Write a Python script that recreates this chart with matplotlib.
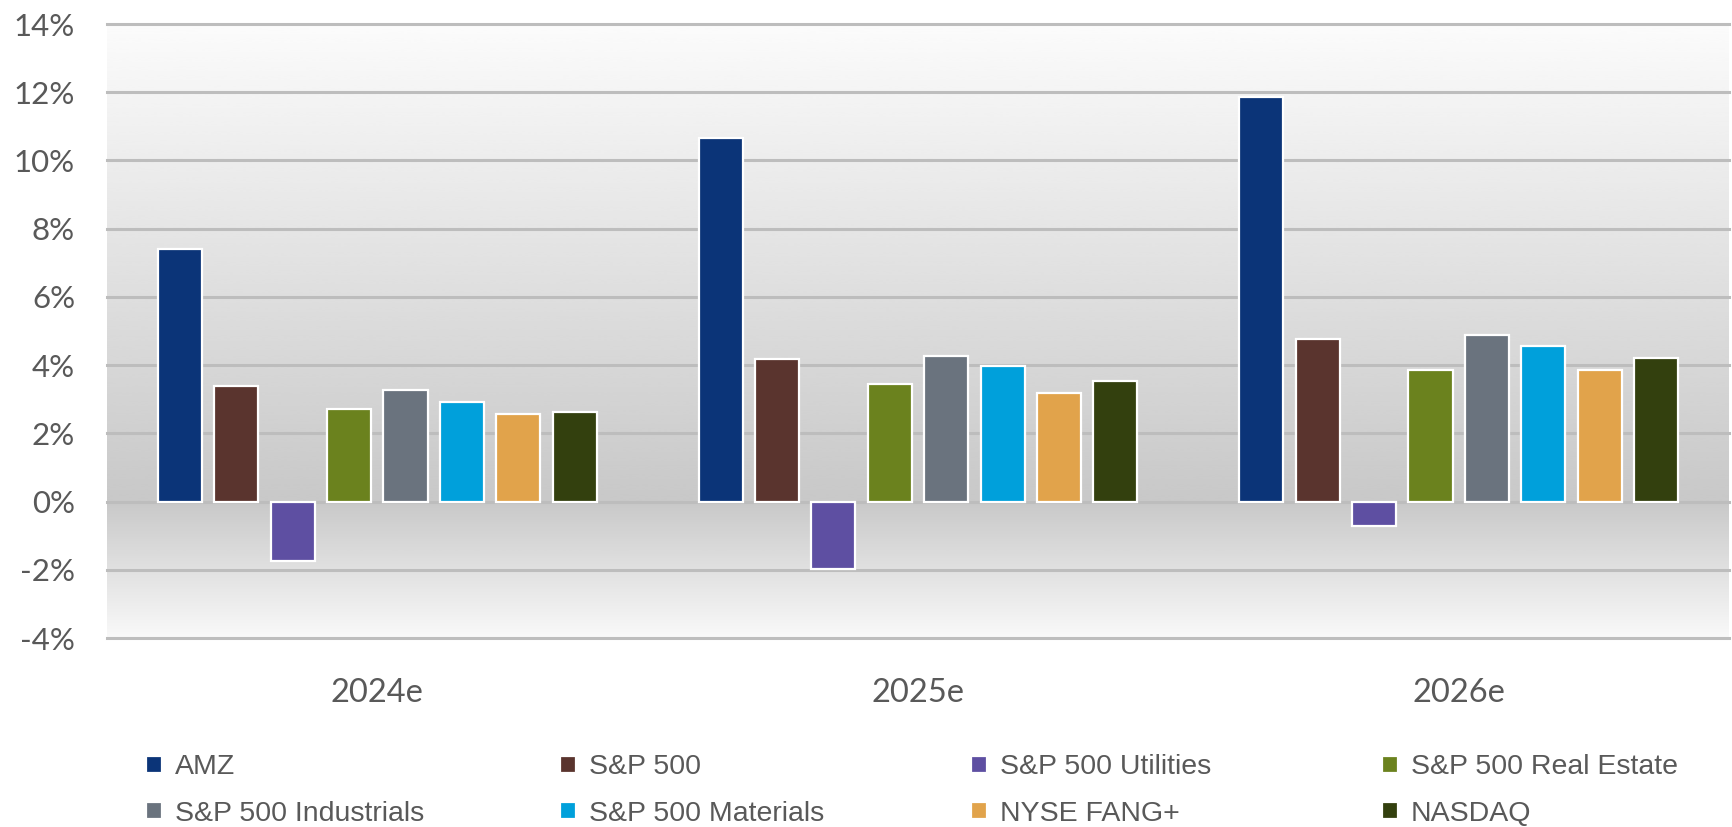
import matplotlib
matplotlib.use('Agg')
import matplotlib.pyplot as plt
import numpy as np

# Consensus growth estimates by year
years = ["2024e", "2025e", "2026e"]
series = ["AMZ", "S&P 500", "S&P 500 Utilities", "S&P 500 Real Estate",
          "S&P 500 Industrials", "S&P 500 Materials", "NYSE FANG+", "NASDAQ"]
amz = [7.4, 10.65, 11.85]
sp500 = [3.4, 4.17, 4.76]
utilities = [-1.75, -1.97, -0.71]
real_estate = [2.7, 3.46, 3.85]
industrials = [3.28, 4.27, 4.89]
materials = [2.92, 3.98, 4.57]
fang = [2.56, 3.17, 3.85]
nasdaq = [2.63, 3.54, 4.21]
colors = ["#0B3478", "#5A342E", "#5E4FA2", "#6B821E",
          "#6A737E", "#00A0DB", "#E1A34B", "#33400E"]

values = [amz, sp500, utilities, real_estate, industrials, materials, fang, nasdaq]

W, H = 1732, 827
fig = plt.figure(figsize=(W / 100, H / 100), dpi=100)
left, right, top, bottom = 107, 1729, 24, 638
ax = fig.add_axes([left / W, 1 - bottom / H, (right - left) / W, (bottom - top) / H])

ymin, ymax = -4, 14
# gradient background: light at top and bottom, grey around zero
ys = np.linspace(ymax, ymin, 400)
shade = np.where(ys >= 0, 0.985 - 0.2 * (1 - ys / ymax), 0.975 - 0.19 * (1 - ys / ymin))
grad = np.tile(shade[:, None], (1, 2))
ax.imshow(grad, extent=[-0.5, 2.5, ymin, ymax], aspect='auto', cmap='gray',
          vmin=0, vmax=1, zorder=0, interpolation='bicubic')

x = np.arange(len(years))
pitch = 0.1042
width = 0.0814
handles = []
for i, (name, vals) in enumerate(zip(series, values)):
    off = (i - 3.5) * pitch
    b = ax.bar(x + off, vals, width, color=colors[i], edgecolor='white',
               linewidth=1.6, label=name, zorder=3)
    handles.append(b)

ax.set_xlim(-0.5, 2.5)
ax.set_ylim(ymin, ymax)
ax.set_yticks(np.arange(-4, 15, 2))
ax.set_yticklabels([f"{v}%" for v in range(-4, 15, 2)])
ax.yaxis.grid(True, color="#BDBDBD", linewidth=2.2, zorder=1)
for gl in ax.get_ygridlines():
    gl.set_clip_on(False)
ax.set_axisbelow(True)
for s in ax.spines.values():
    s.set_visible(False)
ax.tick_params(axis='y', length=0, pad=23, labelsize=22.5, labelcolor="#595959")
ax.tick_params(axis='x', length=0, pad=29, labelsize=23.5, labelcolor="#595959")
ax.set_xticks(x)
ax.set_xticklabels(years)
for lbl in ax.get_xticklabels() + ax.get_yticklabels():
    lbl.set_fontfamily("Lato")

# legend: 4 evenly spaced columns, filled row by row
col_x = [132, 546, 957, 1368]
for c in range(4):
    idx = [c, c + 4]
    leg = fig.legend([handles[k] for k in idx], [series[k] for k in idx],
                     loc='upper left', bbox_to_anchor=(col_x[c] / W, 1 - 740 / H),
                     frameon=False, handlelength=0.55, handleheight=0.55,
                     handletextpad=0.45, labelspacing=0.72, borderpad=0,
                     prop={'family': 'Liberation Sans', 'size': 20.5})
    for t in leg.get_texts():
        t.set_color("#595959")

fig.savefig("out.png", dpi=100)
